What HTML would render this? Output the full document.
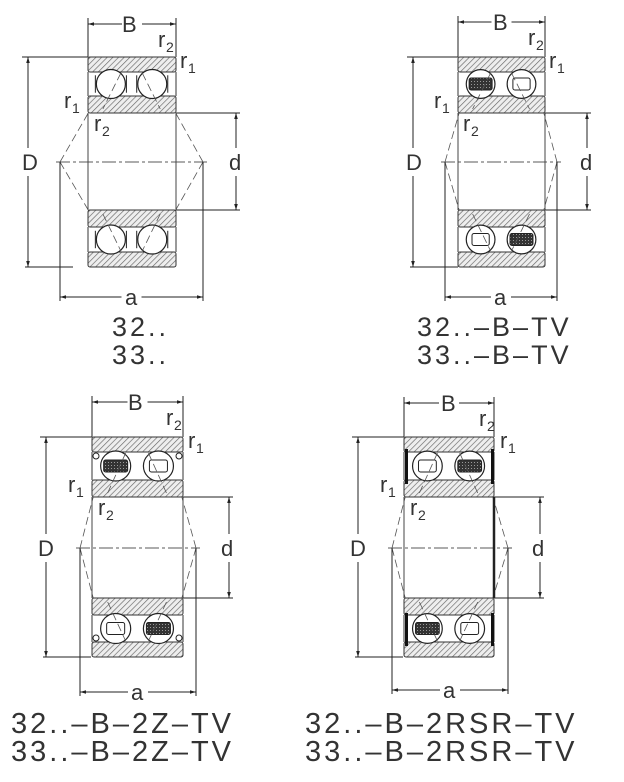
<!DOCTYPE html>
<html><head><meta charset="utf-8"><style>
body{margin:0;background:#fff;width:624px;height:782px;overflow:hidden}
svg{display:block}
text{font-family:"Liberation Sans",sans-serif;fill:#333}
.lbl{font-size:22px}
.sub{font-size:14px}
.cap{font-size:27px;letter-spacing:3px}
</style></head><body>
<svg id="s" width="624" height="782" viewBox="0 0 624 782" xmlns="http://www.w3.org/2000/svg">
<defs>
<pattern id="h" width="4" height="4" patternUnits="userSpaceOnUse" patternTransform="rotate(45)">
<rect width="4" height="4" fill="#eee"/><line x1="0" y1="0" x2="0" y2="4" stroke="#666" stroke-width="1.3"/></pattern>
<pattern id="dk" width="3" height="3" patternUnits="userSpaceOnUse"><rect width="3" height="3" fill="#333"/><rect width="1" height="1" fill="#999"/></pattern>
<marker id="ar" viewBox="0 0 10 10" refX="10" refY="5" markerWidth="9" markerHeight="6" orient="auto-start-reverse"><path d="M0,2 L10,5 L0,8 z" fill="#222"/></marker>
</defs>
<g id="g"></g>
<text class="lbl" x="122" y="32">B</text>
<text class="lbl" x="158" y="47">r</text><text class="sub" x="166" y="52">2</text>
<text class="lbl" x="180" y="68">r</text><text class="sub" x="188" y="73">1</text>
<text class="lbl" x="64" y="108">r</text><text class="sub" x="72" y="113">1</text>
<text class="lbl" x="94" y="131">r</text><text class="sub" x="102" y="136">2</text>
<text class="lbl" x="22" y="170">D</text>
<text class="lbl" x="229" y="170">d</text>
<text class="lbl" x="125" y="305">a</text>
<text class="cap" x="112" y="336">32..</text>
<text class="cap" x="112" y="364">33..</text>
<text class="lbl" x="493" y="30">B</text>
<text class="lbl" x="528" y="45">r</text><text class="sub" x="536" y="50">2</text>
<text class="lbl" x="549" y="68">r</text><text class="sub" x="557" y="73">1</text>
<text class="lbl" x="434" y="108">r</text><text class="sub" x="442" y="113">1</text>
<text class="lbl" x="463" y="131">r</text><text class="sub" x="471" y="136">2</text>
<text class="lbl" x="406" y="170">D</text>
<text class="lbl" x="580" y="170">d</text>
<text class="lbl" x="494" y="305">a</text>
<text class="cap" x="417" y="336">32..–B–TV</text>
<text class="cap" x="417" y="364">33..–B–TV</text>
<text class="lbl" x="128" y="410">B</text>
<text class="lbl" x="166" y="425">r</text><text class="sub" x="174" y="430">2</text>
<text class="lbl" x="188" y="448">r</text><text class="sub" x="196" y="453">1</text>
<text class="lbl" x="68" y="492">r</text><text class="sub" x="76" y="497">1</text>
<text class="lbl" x="98" y="515">r</text><text class="sub" x="106" y="520">2</text>
<text class="lbl" x="38" y="556">D</text>
<text class="lbl" x="221" y="556">d</text>
<text class="lbl" x="131" y="700">a</text>
<text class="cap" x="11" y="733" style="font-size:29px">32..–B–2Z–TV</text>
<text class="cap" x="11" y="761" style="font-size:29px">33..–B–2Z–TV</text>
<text class="lbl" x="441" y="411">B</text>
<text class="lbl" x="479" y="426">r</text><text class="sub" x="487" y="431">2</text>
<text class="lbl" x="500" y="448">r</text><text class="sub" x="508" y="453">1</text>
<text class="lbl" x="380" y="492">r</text><text class="sub" x="388" y="497">1</text>
<text class="lbl" x="410" y="515">r</text><text class="sub" x="418" y="520">2</text>
<text class="lbl" x="350" y="556">D</text>
<text class="lbl" x="532" y="556">d</text>
<text class="lbl" x="443" y="698">a</text>
<text class="cap" x="305" y="733" style="font-size:29px">32..–B–2RSR–TV</text>
<text class="cap" x="305" y="761" style="font-size:29px">33..–B–2RSR–TV</text>
</svg>
<script>
var g=document.getElementById('g'),NS='http://www.w3.org/2000/svg';
function el(t,a){var e=document.createElementNS(NS,t);for(var k in a)e.setAttribute(k,a[k]);g.appendChild(e);return e}
function ln(x1,y1,x2,y2,ex){var a={x1:x1,y1:y1,x2:x2,y2:y2,stroke:'#222','stroke-width':1};for(var k in ex)a[k]=ex[k];return el('line',a)}
function dim(x1,y1,x2,y2){ln(x1,y1,x2,y2,{'marker-start':'url(#ar)','marker-end':'url(#ar)'})}
function B(p){
 var L=p.L,R=p.R,t=p.top,b=p.bot,i1=p.i1,i2=p.i2,cy=p.cy,W=R-L;
 ln(p.aL-4,cy,p.aR+4,cy,{'stroke-dasharray':'14,3,3,3','stroke-width':0.8});
 var ds={'stroke-dasharray':'8,4','stroke-width':0.8,stroke:'#555'};
 ln(p.aL,cy,L+2,i1-3,ds);ln(p.aL,cy,L+2,i2+3,ds);ln(p.aR,cy,R-2,i1-3,ds);ln(p.aR,cy,R-2,i2+3,ds);
 var bx1=L+W*0.26,bx2=L+W*0.73,by1=(t+15+i1-17)/2,by2=(b-15+i2+17)/2,r=W*0.165;
 ln(L,p.By-6,L,t);ln(R,p.By-6,R,t);
 ln(L,i1,L,i2,{stroke:'#444'});ln(R,i1,R,i2,{stroke:'#444'});
 ln(p.Dx-6,t,L,t);ln(p.Dx-3,b,p.Dx+45,b);
 ln(R,i1,p.dx+4,i1);ln(R,i2,p.dx+4,i2);
 ln(p.aL,cy,p.aL,p.aY+4);ln(p.aR,cy,p.aR,p.aY+4);
 dim(L,p.By,R,p.By);dim(p.Dx,t,p.Dx,b);dim(p.dx,i1,p.dx,i2);dim(p.aL,p.aY,p.aR,p.aY);
 el('rect',{x:(L+R)/2-10,y:p.By-11,width:20,height:22,fill:'#fff'});
 el('rect',{x:p.Dx-9,y:cy-14,width:18,height:28,fill:'#fff'});
 el('rect',{x:p.dx-9,y:cy-14,width:18,height:28,fill:'#fff'});
 el('rect',{x:(p.aL+p.aR)/2-10,y:p.aY-11,width:20,height:22,fill:'#fff'});
 var rs={fill:'url(#h)',stroke:'#333','stroke-width':1,rx:2};
 el('rect',Object.assign({x:L,y:t,width:W,height:15},rs));
 el('rect',Object.assign({x:L,y:b-15,width:W,height:15},rs));
 el('rect',Object.assign({x:L,y:i1-17,width:W,height:17},rs));
 el('rect',Object.assign({x:L,y:i2,width:W,height:17},rs));
 ln(L,i1-17,L,t+15,{stroke:'#333'});ln(R,i1-17,R,t+15,{stroke:'#333'});
 ln(L,b-15,L,i2+17,{stroke:'#333'});ln(R,b-15,R,i2+17,{stroke:'#333'});
 var balls=[[bx1,by1,p.c[0]],[bx2,by1,p.c[1]],[bx1,by2,p.c[2]],[bx2,by2,p.c[3]]];
 balls.forEach(function(q){
  el('circle',{cx:q[0],cy:q[1],r:r,fill:'#fff',stroke:'#222','stroke-width':1.2});
  if(q[2]==1)el('rect',{x:q[0]-r*0.8,y:q[1]-6,width:r*1.6,height:12,rx:2,fill:'url(#dk)',stroke:'#222'});
  else if(q[2]==2)el('rect',{x:q[0]-r*0.6,y:q[1]-6,width:r*1.2,height:12,rx:2,fill:'#fff',stroke:'#222'});
  else{ln(q[0]-r-1,q[1]-r*0.6,q[0]-r-1,q[1]+r*0.6);ln(q[0]+r+1,q[1]-r*0.6,q[0]+r+1,q[1]+r*0.6)}
 });
 ln(bx1+10,t+16,bx1-8,i1-4,ds);ln(bx2-10,t+16,bx2+8,i1-4,ds);
 ln(bx1-8,i2+4,bx1+10,b-16,ds);ln(bx2+8,i2+4,bx2-10,b-16,ds);
 if(p.seal==1){[[L+4,t+19],[R-4,t+19],[L+4,b-19],[R-4,b-19]].forEach(function(q){el('circle',{cx:q[0],cy:q[1],r:3,fill:'#fff',stroke:'#222'})})}
 if(p.seal==2){[[L+1,t+14,i1-17],[R-3,t+14,i1-17],[L+1,i2+17,b-15],[R-3,i2+17,b-15]].forEach(function(q){el('rect',{x:q[0],y:q[1]-2,width:3,height:q[2]-q[1]+6,fill:'#111'})});
  ln(R,i1,R,i2,{'stroke-width':2.5})}
}
B({L:88,R:176,top:57,bot:267,i1:113,i2:210,cy:162,Dx:28,dx:236,aL:60,aR:203,aY:297,By:24,c:[0,0,0,0]});
B({L:458,R:545,top:57,bot:267,i1:113,i2:210,cy:162,Dx:413,dx:587,aL:445,aR:557,aY:297,By:22,c:[1,2,2,1]});
B({L:92,R:183,top:437,bot:657,i1:497,i2:598,cy:548,Dx:46,dx:229,aL:80,aR:196,aY:692,By:402,c:[1,2,2,1],seal:1});
B({L:404,R:494,top:437,bot:657,i1:497,i2:598,cy:548,Dx:358,dx:540,aL:392,aR:508,aY:690,By:403,c:[2,1,1,2],seal:2});
</script>
</body></html>
